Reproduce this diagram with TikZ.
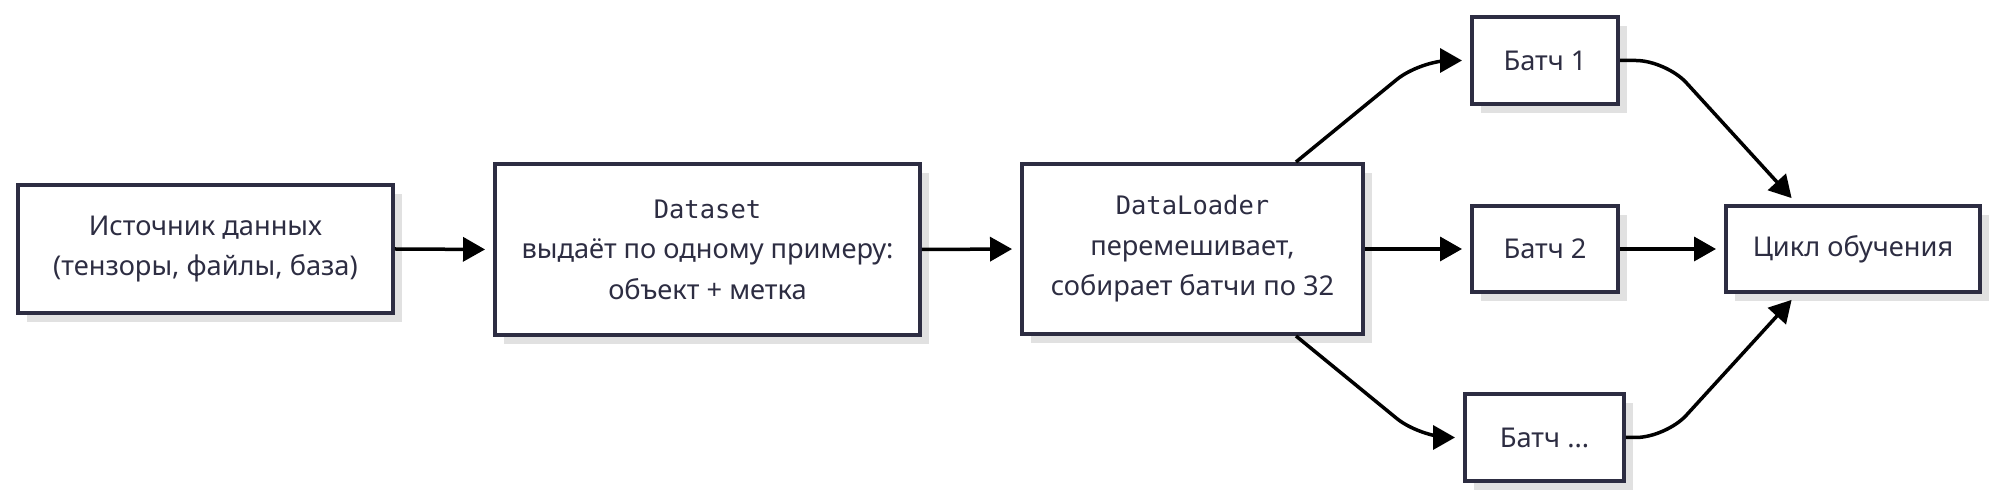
\documentclass[tikz,border=0pt]{standalone}
\usepackage{fontspec}
\setmainfont{Noto Sans}
\setmonofont{DejaVu Sans Mono}
\usetikzlibrary{arrows.meta}
\usetikzlibrary{shadows}
\definecolor{boxline}{RGB}{45,45,66}
\definecolor{boxshadow}{RGB}{225,225,225}
\newcommand{\codefont}[1]{{\ttfamily\fontsize{14.5pt}{23pt}\selectfont #1}}

\begin{document}
\begin{tikzpicture}[x = 0.02cm, y = -0.02cm]
\tikzstyle{BoxStyle}=[shape = rectangle,
                      draw = boxline,
                      line width = 0.08cm,
                      fill = white,
                      text = boxline,
                      align = center,
                      inner sep = 0pt,
                      font = \fontsize{15.5pt}{23pt}\selectfont,
                      general shadow = {shadow xshift = 0.18cm, shadow yshift = -0.18cm, fill = boxshadow}]
\tikzstyle{EdgeStyle}=[line width = 0.07cm,
                       -{Triangle[length = 0.44cm, width = 0.48cm]},
                       shorten > = 0.16cm,
                       rounded corners = 0.6cm]
\useasboundingbox (0,0) rectangle (1999,499);
\node[BoxStyle, minimum width = 7.5cm, minimum height = 2.56cm] (source) at (205.5, 249) {Источник данных\\(тензоры, файлы, база)};
\node[BoxStyle, minimum width = 8.5cm, minimum height = 3.42cm] (dataset) at (707.5, 249.5) {\codefont{Dataset}\\выдаёт по одному примеру:\\объект + метка};
\node[BoxStyle, minimum width = 6.82cm, minimum height = 3.4cm] (loader) at (1192.5, 249) {\codefont{DataLoader}\\перемешивает,\\собирает батчи по 32};
\node[BoxStyle, minimum width = 2.92cm, minimum height = 1.74cm] (b1) at (1545, 60.5) {Батч 1};
\node[BoxStyle, minimum width = 2.92cm, minimum height = 1.74cm] (b2) at (1545, 249) {Батч 2};
\node[BoxStyle, minimum width = 3.18cm, minimum height = 1.74cm] (b3) at (1544.5, 437.5) {Батч ...};
\node[BoxStyle, minimum width = 5.08cm, minimum height = 1.72cm] (loop) at (1853, 249) {Цикл обучения};
\draw[EdgeStyle] (source.east) -- (dataset.west);
\draw[EdgeStyle] (dataset.east) -- (loader.west);
\draw[EdgeStyle] (loader.east) -- (b2.west);
\draw[EdgeStyle] (b2.east) -- (loop.west);
\draw[EdgeStyle] ([xshift = 2.07cm]loader.north) -- (1420, 60.5) -- (b1.west);
\draw[EdgeStyle] ([xshift = 2.07cm]loader.south) -- (1420, 437.5) -- (b3.west);
\draw[EdgeStyle] (b1.east) -- (1666, 60.5) -- ([xshift = -1.12cm]loop.north);
\draw[EdgeStyle] (b3.east) -- (1666, 437.5) -- ([xshift = -1.12cm]loop.south);
\end{tikzpicture}
\end{document}
